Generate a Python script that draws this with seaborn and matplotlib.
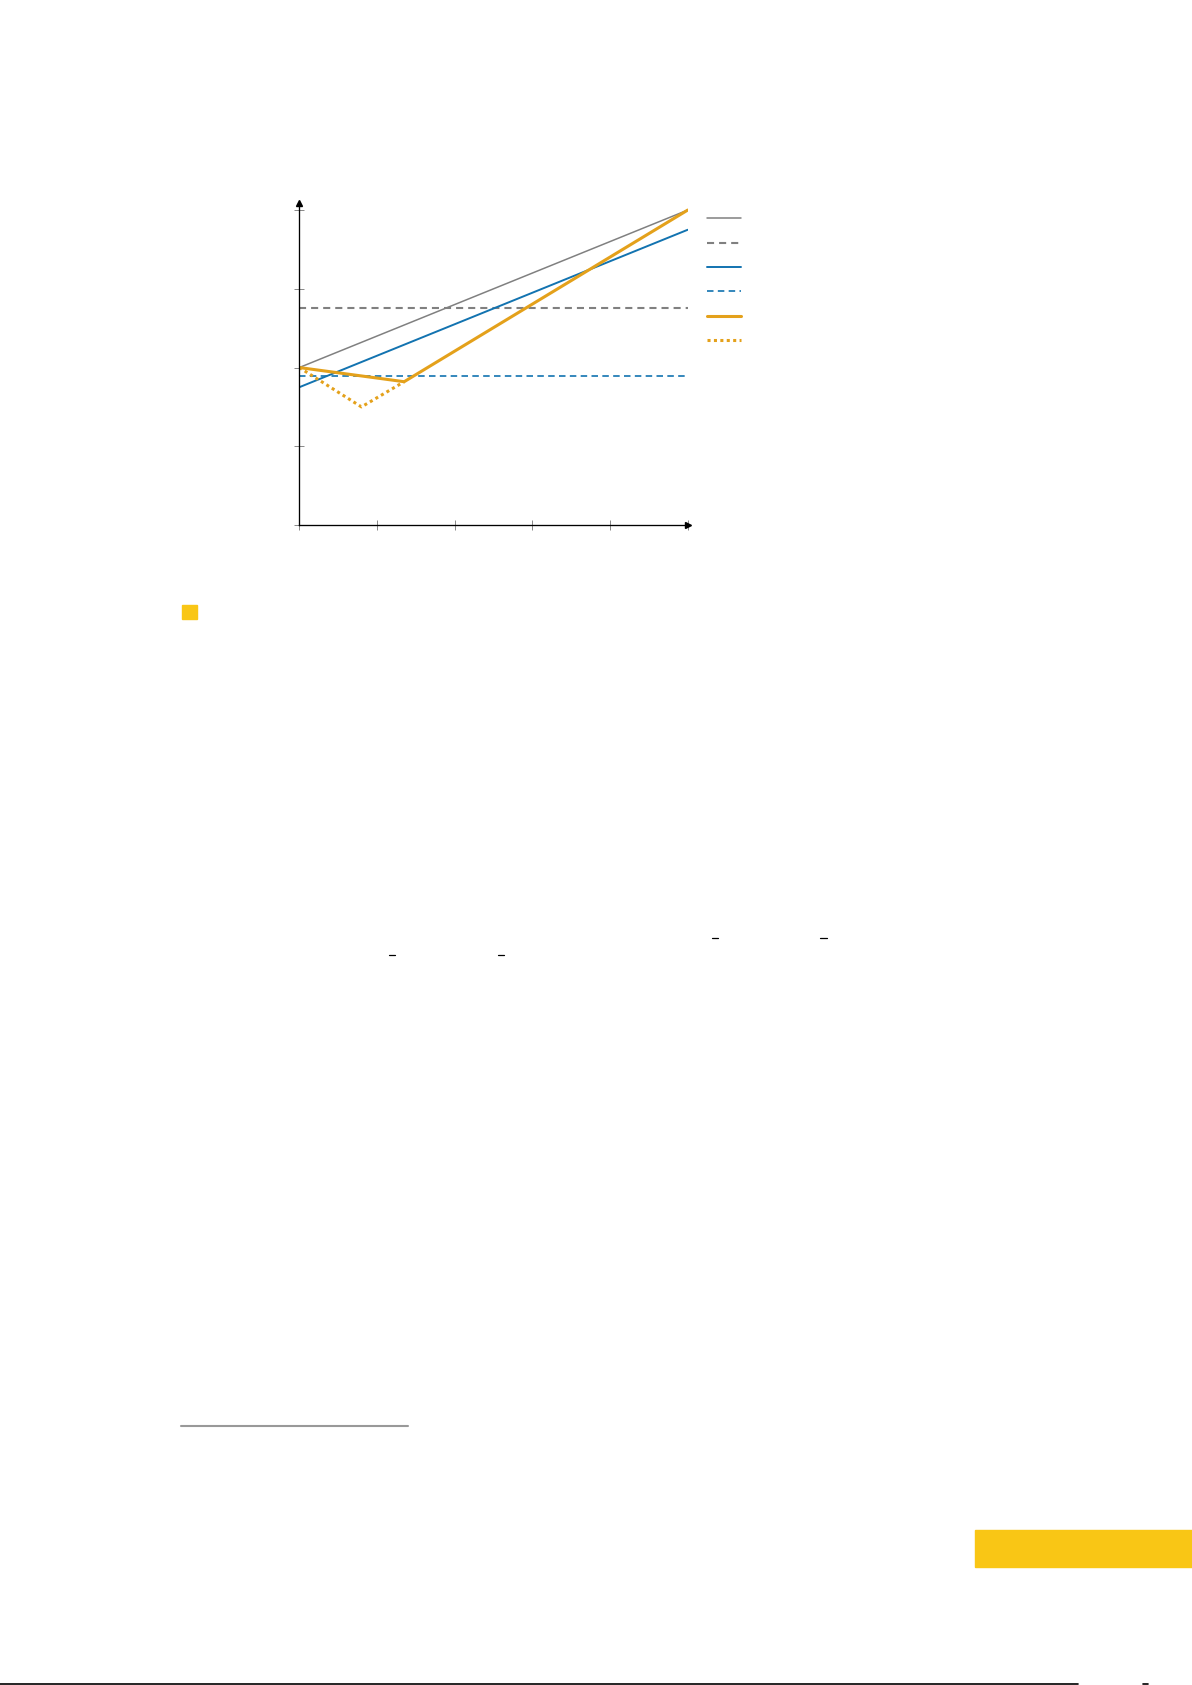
import matplotlib.pyplot as plt
import seaborn as sns
from matplotlib.patches import Rectangle
from matplotlib.lines import Line2D

# values (x runs 0..5, y runs 0..4)
gray_x = [0, 5]
gray_y = [2.0, 4.0]
gray_flat_x = [0, 5]
gray_flat_y = [2.75, 2.75]
blue_x = [0, 5]
blue_y = [1.75, 3.75]
blue_flat_x = [0, 5]
blue_flat_y = [1.89, 1.89]
orange_x = [0, 1.35, 5]
orange_y = [2.0, 1.82, 4.0]
orange_dot_x = [0, 0.8, 1.35]
orange_dot_y = [2.0, 1.5, 1.82]
x_ticks = [0, 1, 2, 3, 4, 5]
y_ticks = [0, 1, 2, 3, 4]
legend_labels = ["", "", "", "", "", ""]  # legend text is blank in the reference

GRAY = "#808080"
BLUE = "#1273b0"
ORANGE = "#e4a11b"
YELLOW = "#f9c615"

sns.set_theme(style="white")
plt.rcParams['font.family'] = ['DejaVu Sans']

W, H = 1192, 1685
fig = plt.figure(figsize=(W / 100, H / 100), dpi=100)
ax = fig.add_axes([299.3 / W, 1 - 525 / H, 388.4 / W, 322 / H])

# x, y, colour, linewidth, dash pattern
series = [
    (gray_x, gray_y, GRAY, 1.1, None),
    (gray_flat_x, gray_flat_y, GRAY, 1.5, (3.4, 2.4)),
    (blue_x, blue_y, BLUE, 1.4, None),
    (blue_flat_x, blue_flat_y, BLUE, 1.2, (3.9, 2.6)),
    (orange_x, orange_y, ORANGE, 2.2, None),
    (orange_dot_x, orange_dot_y, ORANGE, 2.2, (1, 1.1)),
]
handles = []
for xs, ys, c, lw, dash in series:
    sns.lineplot(x=xs, y=ys, ax=ax, color=c, linewidth=lw, sort=False)
    ln = ax.lines[-1]
    if dash is not None:
        ln.set_dashes(dash)
        ln.set_dash_capstyle('butt')
    handles.append(ln)

ax.set_xlim(0, 5)
ax.set_ylim(0, 4.09)
ax.set_xticks(x_ticks)
ax.set_yticks(y_ticks)
ax.tick_params(direction='inout', length=6.5, width=0.7, color='#888888',
               bottom=True, left=True, labelbottom=False, labelleft=False)
for s in ['top', 'right']:
    ax.spines[s].set_visible(False)
for s in ['left', 'bottom']:
    ax.spines[s].set_color('black')
    ax.spines[s].set_linewidth(0.95)
ax.plot(1, 0, '>', color='black', ms=4, transform=ax.transAxes, clip_on=False)
ax.plot(0, 1, '^', color='black', ms=4, transform=ax.transAxes, clip_on=False)

ax.legend(handles, legend_labels, loc='upper left',
          bbox_to_anchor=((707 - 299.3) / 388.4, (525 - 212) / 322),
          frameon=False, fontsize=10, handlelength=2.45, handletextpad=0,
          borderpad=0, borderaxespad=0, labelspacing=0.75)

# page furniture around the chart
fig.add_artist(Rectangle((182 / W, 1 - 619 / H), 15 / W, 14 / H,
                         color=YELLOW, transform=fig.transFigure))
fig.add_artist(Rectangle((975 / W, 1 - 1567 / H), 217 / W, 37 / H,
                         color=YELLOW, transform=fig.transFigure))
fig.add_artist(Line2D([181 / W, 408 / W], [1 - 1425.5 / H] * 2,
                      color='#999999', lw=1.5, transform=fig.transFigure))
fig.add_artist(Line2D([0, 1078 / W], [1 - 1683.5 / H] * 2,
                      color='black', lw=1.2, transform=fig.transFigure))
fig.add_artist(Line2D([1143 / W, 1148 / W], [1 - 1684 / H] * 2,
                      color='black', lw=1.2, transform=fig.transFigure))
for x0, x1, yy in [(712, 718, 937.7), (820, 826.5, 937.7),
                   (389, 395, 955), (498, 504, 955)]:
    fig.add_artist(Line2D([x0 / W, x1 / W], [1 - yy / H] * 2,
                          color='black', lw=0.9, transform=fig.transFigure))

fig.savefig("out.png", dpi=100)
